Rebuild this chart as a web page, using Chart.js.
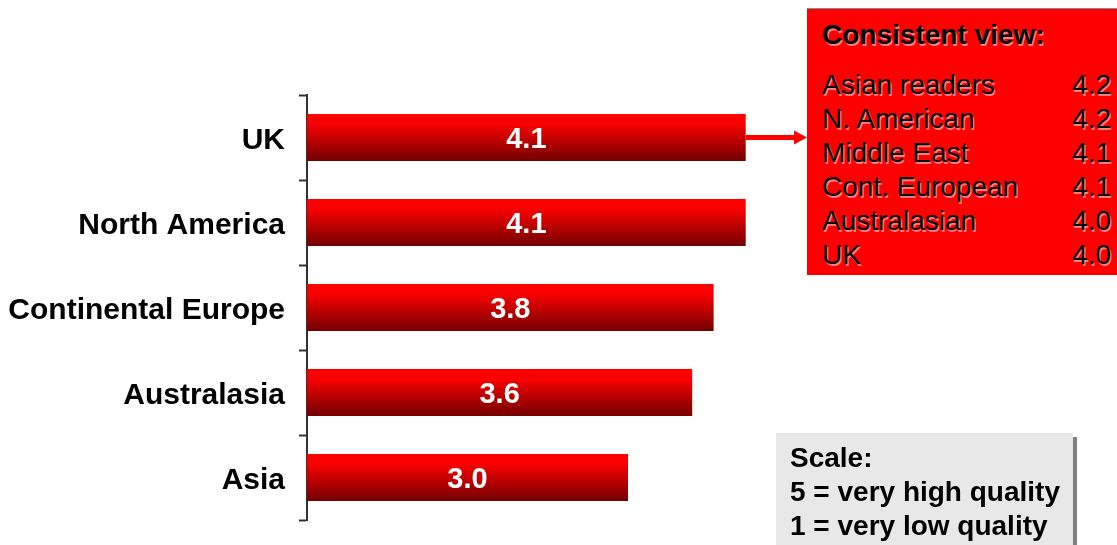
<!DOCTYPE html>
<html>
<head>
<meta charset="utf-8">
<script src="https://cdn.jsdelivr.net/npm/chart.js@4"></script>
<style>
  html,body{margin:0;padding:0;background:#fff;}
  body{width:1117px;height:545px;position:relative;overflow:hidden;font-family:"Liberation Sans",Arial,sans-serif;}
  #wrap{position:absolute;left:0;top:0;width:1117px;height:545px;}
  .redbox{position:absolute;left:807px;top:8px;width:310px;height:267px;background:#ff0000;border-top:1px solid #8a8a8a;
    box-sizing:border-box;padding:9px 6px 0 15px;font-size:28px;line-height:34px;color:#000;
    text-shadow:1.5px 1.5px 0 rgba(255,255,255,0.5);}
  .redbox .ttl{font-weight:bold;margin-bottom:16px;}
  .redbox .row{display:flex;justify-content:space-between;}
  .scalebox{position:absolute;left:776px;top:433px;width:297px;height:112px;background:#e8e8e8;box-shadow:4px 4px 0 #808080;
    box-sizing:border-box;padding:8px 0 0 14px;font-size:28px;line-height:34px;font-weight:bold;color:#000;}
</style>
</head>
<body>
<div id="wrap"><canvas id="chart" width="1117" height="545"></canvas></div>
<div class="redbox" id="view"></div>
<div class="scalebox">Scale:<br>5 = very high quality<br>1 = very low quality</div>
<script>
// regions and average score
const regions=['UK','North America','Continental Europe','Australasia','Asia'];
const scores=[4.1,4.1,3.8,3.6,3.0];

// "Consistent view" panel
const viewTitle='Consistent view:';
const viewNames=['Asian readers','N. American','Middle East','Cont. European','Australasian','UK'];
const viewScores=[4.2,4.2,4.1,4.1,4.0,4.0];

let html='<div class="ttl">'+viewTitle+'</div>';
viewNames.forEach(function(n,i){
  html+='<div class="row"><span>'+n+'</span><span>'+viewScores[i].toFixed(1)+'</span></div>';
});
document.getElementById('view').innerHTML=html;

const FONT='"Liberation Sans", Arial, sans-serif';
const BOX_LEFT=807;

function barFill(c){
  const chart=c.chart;
  if(!chart.chartArea) return '#e00000';
  const y=chart.scales.y.getPixelForValue(c.dataIndex);
  const g=chart.ctx.createLinearGradient(0,y-23.5,0,y+23.5);
  g.addColorStop(0,'#ff0000');
  g.addColorStop(0.2,'#fb0000');
  g.addColorStop(1,'#720000');
  return g;
}

const valueLabels={
  id:'valueLabels',
  afterDatasetsDraw(chart){
    const ctx=chart.ctx;
    const meta=chart.getDatasetMeta(0);
    ctx.save();
    ctx.fillStyle='#fff';
    ctx.font='bold 29px '+FONT;
    ctx.textAlign='center';
    ctx.textBaseline='middle';
    meta.data.forEach(function(el,i){
      ctx.fillText(scores[i].toFixed(1),(el.x+el.base)/2,el.y+2);
    });
    ctx.restore();
  }
};

const arrow={
  id:'arrow',
  afterDraw(chart){
    const el=chart.getDatasetMeta(0).data[0];
    const ctx=chart.ctx;
    const y=el.y;
    ctx.save();
    ctx.strokeStyle='#ff0000';
    ctx.fillStyle='#ff0000';
    ctx.lineWidth=5;
    ctx.beginPath();
    ctx.moveTo(el.x,y);
    ctx.lineTo(BOX_LEFT-12,y);
    ctx.stroke();
    ctx.beginPath();
    ctx.moveTo(BOX_LEFT,y);
    ctx.lineTo(BOX_LEFT-13,y-7);
    ctx.lineTo(BOX_LEFT-13,y+7);
    ctx.closePath();
    ctx.fill();
    ctx.restore();
  }
};

const ctx=document.getElementById('chart').getContext('2d');
const chart=new Chart(ctx,{
  type:'bar',
  data:{
    labels:regions,
    datasets:[{data:scores,backgroundColor:barFill,borderWidth:0,barPercentage:0.553,categoryPercentage:1}]
  },
  options:{
    indexAxis:'y',
    responsive:false,
    animation:false,
    devicePixelRatio:1,
    layout:{padding:{left:0,top:95,bottom:25,right:275}},
    plugins:{legend:{display:false},tooltip:{enabled:false}},
    scales:{
      x:{display:false,min:0,max:5},
      y:{
        afterFit:function(s){s.width=307;s.paddingTop=0;s.paddingBottom=0;},
        border:{display:true,color:'#333',width:2},
        grid:{display:true,offset:true,drawOnChartArea:false,drawTicks:true,tickLength:8,tickColor:'#333',tickWidth:2},
        ticks:{color:'#000',padding:14,labelOffset:3,font:{family:FONT,size:30,weight:'bold'}}
      }
    }
  },
  plugins:[valueLabels,arrow]
});
</script>
</body>
</html>
